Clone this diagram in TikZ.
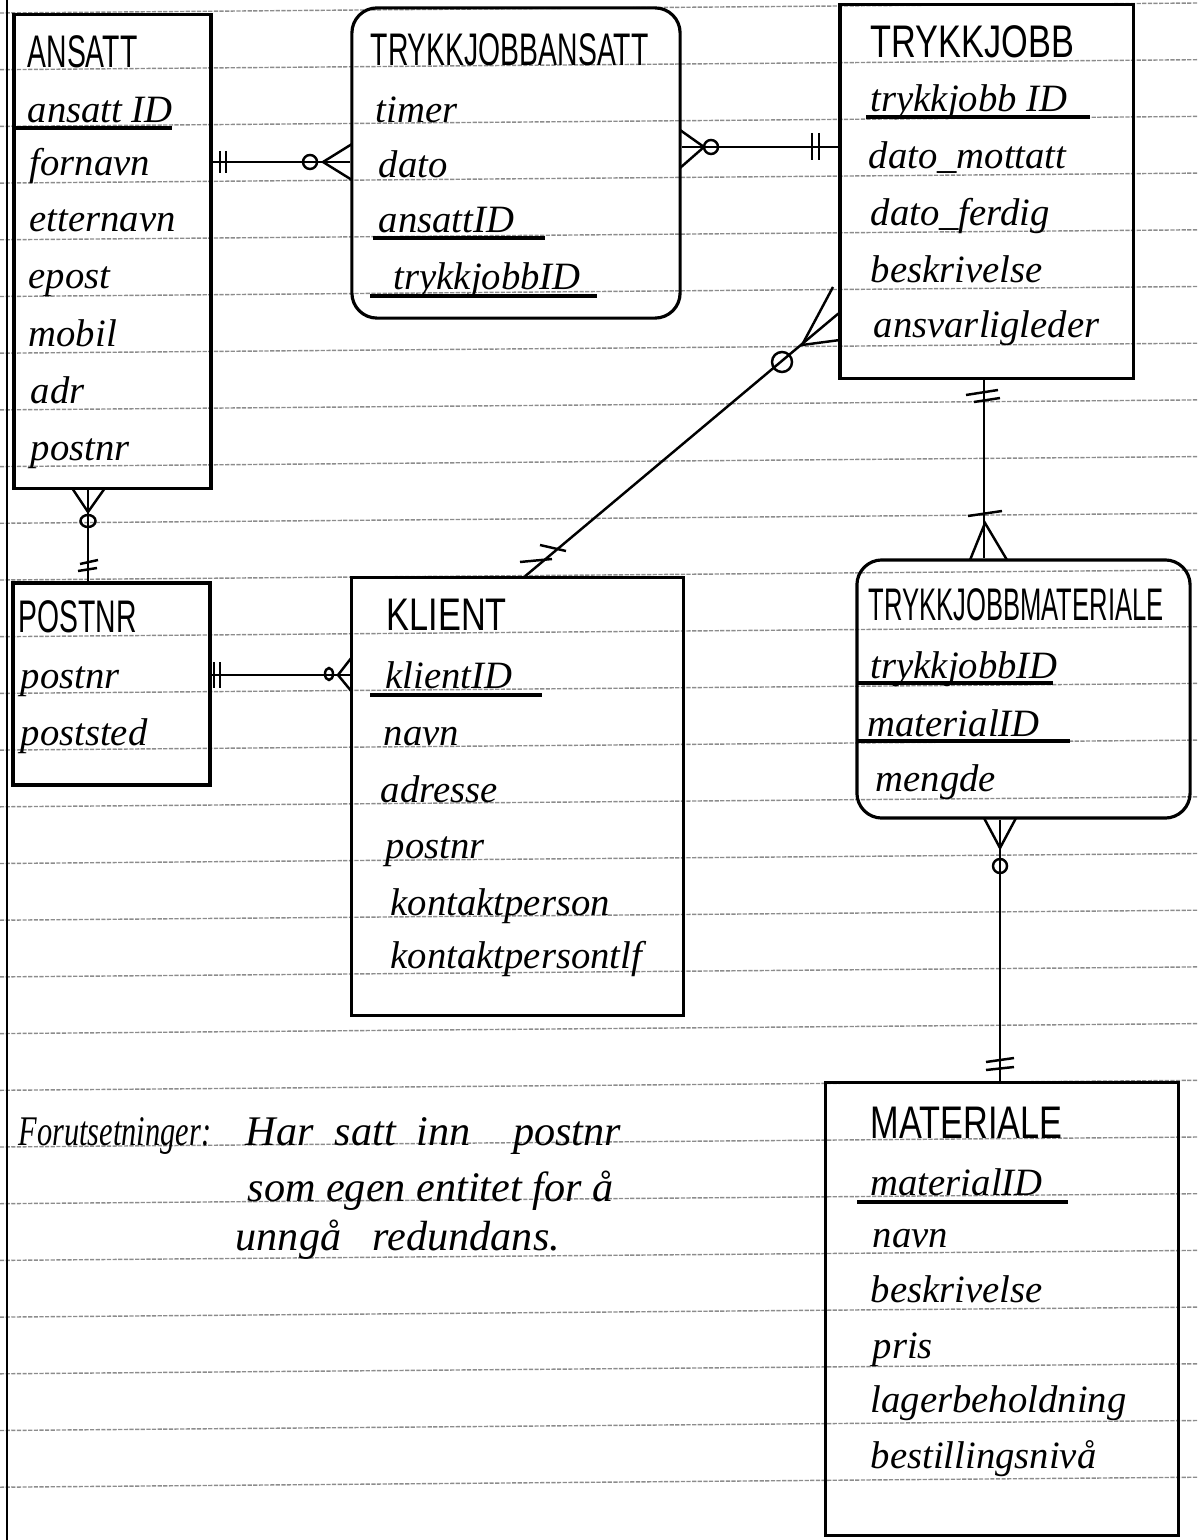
\documentclass[tikz,border=0pt]{standalone}
\usepackage{fontspec}
\setmainfont{Liberation Serif}
\newfontfamily\capsfont[FakeStretch=0.62]{Liberation Sans}
\newfontfamily\capswide[FakeStretch=0.75]{Liberation Sans}
\newfontfamily\capsnarrow[FakeStretch=0.56]{Liberation Sans}
\newfontfamily\notenarrow[FakeStretch=0.72]{Liberation Serif}

\tikzset{
    entity/.style={draw, line width=0.9pt, inner sep=0pt},
    roundentity/.style={entity, rounded corners=0.25cm},
    enttitle/.style={anchor=base west, inner sep=0pt, font=\fontsize{13}{13}\selectfont\capsfont},
    attr/.style={anchor=base west, inner sep=0pt, font=\fontsize{11}{11}\selectfont\itshape},
    notetext/.style={anchor=base west, inner sep=0pt, font=\fontsize{12}{12}\selectfont\itshape},
    keyline/.style={line width=0.9pt},
    rel/.style={line width=0.7pt},
    ruling/.style={black!45, line width=0.4pt, dash pattern=on 1.2pt off 0.4pt}
}

\begin{document}
\begin{tikzpicture}[x=0.01cm, y=-0.01cm]
    \useasboundingbox (0,0) rectangle (1198,1540);

    % Paper
    \foreach \k in {0,...,26}
        \draw[ruling] (0,{13+56.7*\k}) -- (1198,{3+56.7*\k});
    \draw[line width=0.8pt] (7,0) -- (7,1540);

    % Entities
    \node[entity, minimum width=1.97cm, minimum height=4.73cm] (ansatt) at (112.5,251.5) {};
    \node[roundentity, minimum width=3.28cm, minimum height=3.10cm] (tja) at (516,163) {};
    \node[entity, minimum width=2.93cm, minimum height=3.73cm] (tj) at (986.5,191.5) {};
    \node[entity, minimum width=1.97cm, minimum height=2.02cm] (postnr) at (111.5,684) {};
    \node[entity, minimum width=3.31cm, minimum height=4.37cm] (klient) at (517.5,796.5) {};
    \node[roundentity, minimum width=3.33cm, minimum height=2.58cm] (tjm) at (1023.5,689) {};
    \node[entity, minimum width=3.52cm, minimum height=4.52cm] (mat) at (1002,1309) {};

    % ANSATT
    \node[enttitle] (ansatt-t) at (27,68) {ANSATT};
    \node[attr] (ansatt-id) at (27,123) {ansatt ID};
    \draw[keyline] (14,128) -- (172,128);
    \node[attr] (ansatt-fn) at (29,176) {fornavn};
    \node[attr] (ansatt-en) at (29,232) {etternavn};
    \node[attr] (ansatt-ep) at (28,289) {epost};
    \node[attr] (ansatt-mb) at (28,347) {mobil};
    \node[attr] (ansatt-ad) at (30,404) {adr};
    \node[attr] (ansatt-pn) at (30,461) {postnr};

    % TRYKKJOBBANSATT
    \node[enttitle] (tja-t) at (370,66) {TRYKKJOBBANSATT};
    \node[attr] (tja-ti) at (375,123) {timer};
    \node[attr] (tja-da) at (378,178) {dato};
    \node[attr] (tja-an) at (378,233) {ansattID};
    \draw[keyline] (373,238) -- (545,238);
    \node[attr] (tja-tj) at (393,290) {trykkjobbID};
    \draw[keyline] (370,296) -- (597,296);

    % TRYKKJOBB
    \node[enttitle, font=\fontsize{13}{13}\selectfont\capswide] (tj-t) at (870,58) {TRYKKJOBB};
    \node[attr] (tj-id) at (870,112) {trykkjobb ID};
    \draw[keyline] (866,117) -- (1090,117);
    \node[attr] (tj-dm) at (868,169) {dato\_mottatt};
    \node[attr] (tj-df) at (870,226) {dato\_ferdig};
    \node[attr] (tj-be) at (870,283) {beskrivelse};
    \node[attr] (tj-al) at (873,338) {ansvarligleder};

    % POSTNR
    \node[enttitle] (postnr-t) at (18,632) {POSTNR};
    \node[attr] (postnr-pn) at (20,688) {postnr};
    \node[attr] (postnr-ps) at (20,745) {poststed};

    % KLIENT
    \node[enttitle, font=\fontsize{13}{13}\selectfont\capswide] (klient-t) at (386,630) {KLIENT};
    \node[attr] (klient-id) at (385,688) {klientID};
    \draw[keyline] (370,695) -- (542,695);
    \node[attr] (klient-na) at (383,745) {navn};
    \node[attr] (klient-ad) at (380,802) {adresse};
    \node[attr] (klient-pn) at (385,858) {postnr};
    \node[attr] (klient-kp) at (390,915) {kontaktperson};
    \node[attr] (klient-kt) at (390,968) {kontaktpersontlf};

    % TRYKKJOBBMATERIALE
    \node[enttitle, font=\fontsize{13}{13}\selectfont\capsnarrow] (tjm-t) at (868,620) {TRYKKJOBBMATERIALE};
    \node[attr] (tjm-tj) at (870,678) {trykkjobbID};
    \draw[keyline] (858,683) -- (1053,683);
    \node[attr] (tjm-ma) at (867,736) {materialID};
    \draw[keyline] (858,741) -- (1070,741);
    \node[attr] (tjm-me) at (875,791) {mengde};

    % MATERIALE
    \node[enttitle, font=\fontsize{13}{13}\selectfont\capswide] (mat-t) at (870,1138) {MATERIALE};
    \node[attr] (mat-id) at (870,1195) {materialID};
    \draw[keyline] (857,1202) -- (1068,1202);
    \node[attr] (mat-na) at (872,1247) {navn};
    \node[attr] (mat-be) at (870,1302) {beskrivelse};
    \node[attr] (mat-pr) at (872,1358) {pris};
    \node[attr] (mat-lb) at (870,1412) {lagerbeholdning};
    \node[attr] (mat-bn) at (870,1468) {bestillingsnivå};

    % Assumptions
    \node[notetext, font=\fontsize{12}{12}\selectfont\notenarrow\itshape] (forut) at (18,1145) {Forutsetninger:};
    \node[notetext] (note-a) at (245,1145) {Har\ \ satt\ \ inn\ \ \ \ postnr};
    \node[notetext] (note-b) at (247,1201) {som egen entitet for å};
    \node[notetext] (note-c) at (235,1250) {unngå\ \ \ redundans.};

    % ANSATT -- TRYKKJOBBANSATT
    \draw[rel] (ansatt.east |- 0,162) -- (tja.west |- 0,162);
    \draw[rel] (220,151) -- (220,173) (226,151) -- (226,173);
    \draw[rel] (310,162) circle[radius=0.07cm];
    \draw[rel] (352,144) -- (323,162) -- (352,180);

    % TRYKKJOBBANSATT -- TRYKKJOBB
    \draw[rel] (tja.east |- 0,147) -- (tj.west |- 0,147);
    \draw[rel] (680,130) -- (704,147) -- (680,168);
    \draw[rel] (711,147) circle[radius=0.07cm];
    \draw[rel] (812,133) -- (812,160) (819,133) -- (819,160);

    % TRYKKJOBB -- TRYKKJOBBMATERIALE
    \draw[rel] (tj.south -| 984,0) -- (tjm.north -| 984,0);
    \draw[rel] (966,395) -- (998,390) (974,402) -- (1000,398);
    \draw[rel] (968,516) -- (1002,511);
    \draw[rel] (970,560) -- (985,523) -- (1007,560);

    % TRYKKJOBBMATERIALE -- MATERIALE
    \draw[rel] (tjm.south -| 1000,0) -- (mat.north -| 1000,0);
    \draw[rel] (984,818) -- (1000,848) -- (1016,818);
    \draw[rel] (1000,866) circle[radius=0.07cm];
    \draw[rel] (986,1062) -- (1014,1058) (986,1070) -- (1014,1067);

    % POSTNR -- KLIENT
    \draw[rel] (postnr.east |- 0,675) -- (klient.west |- 0,675);
    \draw[rel] (214,662) -- (214,688) (220,662) -- (220,688);
    \draw[rel] (329,674) ellipse[x radius=0.04cm, y radius=0.06cm];
    \draw[rel] (352,657) -- (338,675) -- (352,692);

    % ANSATT -- POSTNR
    \draw[rel] (ansatt.south -| 88,0) -- (postnr.north -| 88,0);
    \draw[rel] (72,488) -- (88,512) -- (105,488);
    \draw[rel] (88,521) ellipse[x radius=0.075cm, y radius=0.06cm];
    \draw[rel] (80,564) -- (98,560) (78,571) -- (97,568);

    % KLIENT -- TRYKKJOBB
    \draw[rel] ([xshift=0.075cm]klient.north) -- ([yshift=-1.22cm]tj.west);
    \draw[rel] (833,287) -- (802,345) -- (840,340);
    \draw[rel] (782,362) circle[radius=0.1cm];
    \draw[rel] (540,545) -- (566,551) (520,562) -- (552,559);
\end{tikzpicture}
\end{document}
